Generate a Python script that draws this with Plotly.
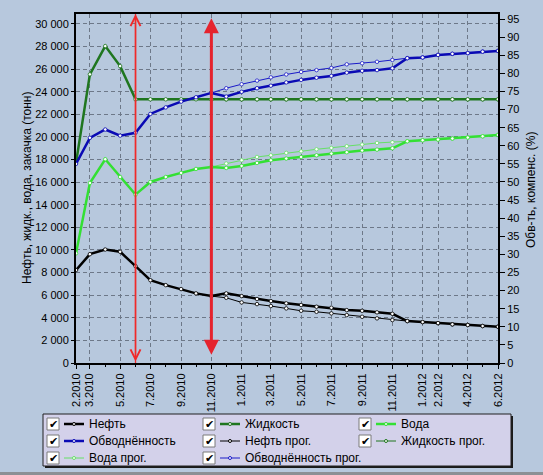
import plotly.graph_objects as go
import pandas as pd

# ---------------- data ----------------
months = pd.date_range("2010-02-01", "2012-06-01", freq="MS")
forecast_months = months[9:]          # forecast from 11.2010
fact_end = "2010-06-01"               # thin red marker line
forecast_start = "2010-11-01"         # thick red double arrow

oil = [8220, 9630, 10040, 9840, 8570, 7330, 6890, 6540, 6160, 5920, 6160, 5920, 5660, 5480,
       5280, 5130, 4980, 4890, 4680, 4620, 4480, 4350, 3710, 3620, 3530, 3420, 3360, 3270, 3210]
liquid = [17700, 25540, 28040, 26270, 23330, 23330, 23330, 23330, 23330, 23330, 23330, 23330,
          23330, 23330, 23330, 23330, 23330, 23330, 23330, 23330, 23330, 23330, 23330, 23330,
          23330, 23330, 23330, 23330, 23330]
water = [9700, 15930, 18030, 16460, 14900, 16020, 16460, 16820, 17170, 17350, 17260, 17440, 17700,
         17940, 18090, 18230, 18380, 18530, 18650, 18800, 18880, 19000, 19620, 19710, 19770, 19860,
         19950, 20060, 20180]
watercut = [55.0, 62.2, 64.5, 62.8, 63.6, 68.8, 70.6, 72.2, 73.4, 74.6, 73.6, 74.9, 75.9, 76.6,
            77.5, 78.2, 78.8, 79.3, 80.2, 80.7, 80.9, 81.4, 84.2, 84.4, 85.1, 85.4, 85.6, 86.0, 86.2]

oil_fc = [5920, 5770, 5360, 5210, 5040, 4830, 4620, 4530, 4390, 4240, 4090, 3950, 3800, 3710,
          3620, 3530, 3420, 3360, 3270, 3210]
liquid_fc = [23330, 23330, 23330, 23330, 23330, 23330, 23330, 23330, 23330, 23330, 23330, 23330,
             23330, 23330, 23330, 23330, 23330, 23330, 23330, 23330]
water_fc = [17350, 17650, 17940, 18230, 18380, 18590, 18730, 18910, 19030, 19180, 19330, 19470,
            19530, 19620, 19710, 19770, 19860, 19950, 20060, 20180]
watercut_fc = [74.6, 75.9, 77.0, 78.0, 78.9, 79.7, 80.4, 80.9, 81.5, 82.5, 82.8, 83.2, 83.7, 84.2,
               84.4, 85.1, 85.4, 85.6, 86.0, 86.2]

tick_dates = ["2010-02-01", "2010-03-01", "2010-05-01", "2010-07-01", "2010-09-01", "2010-11-01",
              "2011-01-01", "2011-03-01", "2011-05-01", "2011-07-01", "2011-09-01", "2011-11-01",
              "2012-01-01", "2012-02-01", "2012-04-01", "2012-06-01"]
tick_labels = ["2.2010", "3.2010", "5.2010", "7.2010", "9.2010", "11.2010", "1.2011", "3.2011",
               "5.2011", "7.2011", "9.2011", "11.2011", "1.2012", "2.2012", "4.2012", "6.2012"]

left_ticks = [0, 2000, 4000, 6000, 8000, 10000, 12000, 14000, 16000, 18000, 20000, 22000, 24000,
              26000, 28000, 30000]
right_ticks = [0, 5, 10, 15, 20, 25, 30, 35, 40, 45, 50, 55, 60, 65, 70, 75, 80, 85, 90, 95]

LEFT_MAX = 30880
RIGHT_MAX = 96.4

C_OIL = "#000000"
C_LIQ = "#1f761f"
C_WAT = "#33e033"
C_WCUT = "#0a0ab4"
C_WAT_FC = "#66e066"
C_WCUT_FC = "#1a1ac8"
BG = "#b7c8dd"
GRID = "#6d7888"
FONT = "Liberation Sans"

# ---------------- figure ----------------
W, H = 543, 475
L, R, T, B = 76, 45, 14, 112
PW, PH = W - L - R, H - T - B


def px(x):
    return (x - L) / PW


def py(y):
    return (H - B - y) / PH


fig = go.Figure()


def add(name, x, y, color, width, axis):
    fig.add_trace(go.Scatter(
        x=x, y=y, name=name, mode="lines+markers", yaxis=axis, showlegend=False,
        line=dict(color=color, width=width),
        marker=dict(size=3.5, color="white", line=dict(color=color, width=0.8)),
    ))


add("Нефть прог.", forecast_months, oil_fc, C_OIL, 1, "y")
add("Жидкость прог.", forecast_months, liquid_fc, C_LIQ, 1, "y")
add("Вода прог.", forecast_months, water_fc, C_WAT_FC, 1, "y")
add("Обводнённость прог.", forecast_months, watercut_fc, C_WCUT_FC, 1, "y2")
add("Нефть", months, oil, C_OIL, 2.5, "y")
add("Жидкость", months, liquid, C_LIQ, 2.5, "y")
add("Вода", months, water, C_WAT, 2.5, "y")
add("Обводнённость", months, watercut, C_WCUT, 2.5, "y2")

annotations = []
shapes = []

# red marker lines
shapes.append(dict(type="line", xref="x", yref="paper", x0=fact_end, x1=fact_end, y0=0, y1=1,
                   line=dict(color="#f02a2a", width=1.3), layer="above"))
annotations.append(dict(x=fact_end, y=LEFT_MAX, xref="x", yref="y", ax=0, ay=PH, text="",
                        showarrow=True, arrowside="end+start", arrowhead=5, arrowsize=1.3,
                        arrowwidth=1.5, arrowcolor="#f02a2a", standoff=0, startstandoff=0))
annotations.append(dict(x=forecast_start, y=30500, xref="x", yref="y", ax=0, ay=PH - 11,
                        text="", showarrow=True, arrowside="end+start", arrowhead=2,
                        arrowsize=1.0, arrowwidth=3, arrowcolor="#e5232d", standoff=0,
                        startstandoff=0))

# axis titles
annotations.append(dict(x=px(27), y=py(188), xref="paper", yref="paper", showarrow=False,
                        xanchor="center", yanchor="middle",
                        text="Нефть, жидк., вода, закачка (тонн)", textangle=-90,
                        font=dict(family=FONT, size=12, color="black")))
annotations.append(dict(x=px(531), y=py(190), xref="paper", yref="paper", showarrow=False,
                        xanchor="center", yanchor="middle",
                        text="Обв-ть, компенс. (%)", textangle=-90,
                        font=dict(family=FONT, size=12, color="black")))

# custom legend
shapes.append(dict(type="rect", xref="paper", yref="paper", x0=px(45), x1=px(513),
                   y0=py(468), y1=py(416), fillcolor="#1a1a1a", line=dict(width=0), layer="above"))
shapes.append(dict(type="rect", xref="paper", yref="paper", x0=px(43), x1=px(511),
                   y0=py(466), y1=py(414), fillcolor="#d3d1ea", line=dict(color="#202020", width=1),
                   layer="above"))

legend_items = [
    ("Нефть", C_OIL, 2.5), ("Жидкость", C_LIQ, 2.5), ("Вода", C_WAT, 2.5),
    ("Обводнённость", C_WCUT, 2.5), ("Нефть прог.", C_OIL, 1), ("Жидкость прог.", C_LIQ, 1),
    ("Вода прог.", C_WAT_FC, 1), ("Обводнённость прог.", C_WCUT_FC, 1),
]
col_x = [47, 203, 359]
row_y = [424, 441, 458]
for i, (name, color, width) in enumerate(legend_items):
    cx = col_x[i % 3]
    cy = row_y[i // 3]
    shapes.append(dict(type="rect", xref="paper", yref="paper", x0=px(cx), x1=px(cx + 12),
                       y0=py(cy + 6), y1=py(cy - 6), fillcolor="white",
                       line=dict(color="#7a7a7a", width=1), layer="above"))
    annotations.append(dict(x=px(cx + 6.5), y=py(cy), xref="paper", yref="paper", showarrow=False,
                            text="✔", font=dict(family="DejaVu Sans", size=11, color="black"),
                            xanchor="center", yanchor="middle"))
    shapes.append(dict(type="line", xref="paper", yref="paper", x0=px(cx + 17), x1=px(cx + 37),
                       y0=py(cy), y1=py(cy), line=dict(color=color, width=width), layer="above"))
    shapes.append(dict(type="circle", xref="paper", yref="paper", x0=px(cx + 25.5), x1=px(cx + 28.5),
                       y0=py(cy + 1.5), y1=py(cy - 1.5), fillcolor="white",
                       line=dict(color=color, width=1), layer="above"))
    annotations.append(dict(x=px(cx + 40), y=py(cy), xref="paper", yref="paper", showarrow=False,
                            text=name, xanchor="left", yanchor="middle",
                            font=dict(family=FONT, size=12, color="black")))

# bottom window strip
shapes.append(dict(type="rect", xref="paper", yref="paper", x0=px(0), x1=px(W),
                   y0=py(H), y1=py(472), fillcolor="#8c8f94", line=dict(width=0), layer="above"))

fig.update_layout(
    width=W, height=H,
    margin=dict(l=L, r=R, t=T, b=B, pad=0),
    paper_bgcolor=BG, plot_bgcolor=BG,
    font=dict(family=FONT, size=11, color="black"),
    separators=". ",
    annotations=annotations,
    shapes=shapes,
    xaxis=dict(
        type="date", range=["2010-02-01", "2012-06-01"],
        tickmode="array", tickvals=tick_dates, ticktext=tick_labels, tickangle=-90,
        ticks="outside", ticklen=4, tickcolor="black", tickwidth=1,
        showgrid=True, gridcolor=GRID, griddash="4px,3px", gridwidth=1,
        showline=True, linecolor="black", linewidth=2, mirror=True,
        zeroline=False, tickfont=dict(size=11),
        minor=dict(dtick="M1", ticks="outside", ticklen=2, tickcolor="black", showgrid=False),
    ),
    yaxis=dict(
        range=[0, LEFT_MAX], tickmode="array", tickvals=left_ticks, tickformat=",d",
        ticks="outside", ticklen=3, tickcolor="black",
        showgrid=True, gridcolor=GRID, griddash="4px,3px", gridwidth=1,
        showline=True, linecolor="black", linewidth=2, mirror=True, zeroline=False,
        tickfont=dict(size=11),
    ),
    yaxis2=dict(
        range=[0, RIGHT_MAX], overlaying="y", side="right", tickmode="array",
        tickvals=right_ticks, ticks="outside", ticklen=5, tickcolor="black",
        showgrid=False, showline=True, linecolor="black", linewidth=2, zeroline=False,
        tickfont=dict(size=11),
    ),
)

fig.write_html(
    "out.html",
    config={"displayModeBar": False},
    post_script="document.body.style.margin='0';document.body.style.overflow='hidden';"
                "document.body.style.background='" + BG + "';",
)
